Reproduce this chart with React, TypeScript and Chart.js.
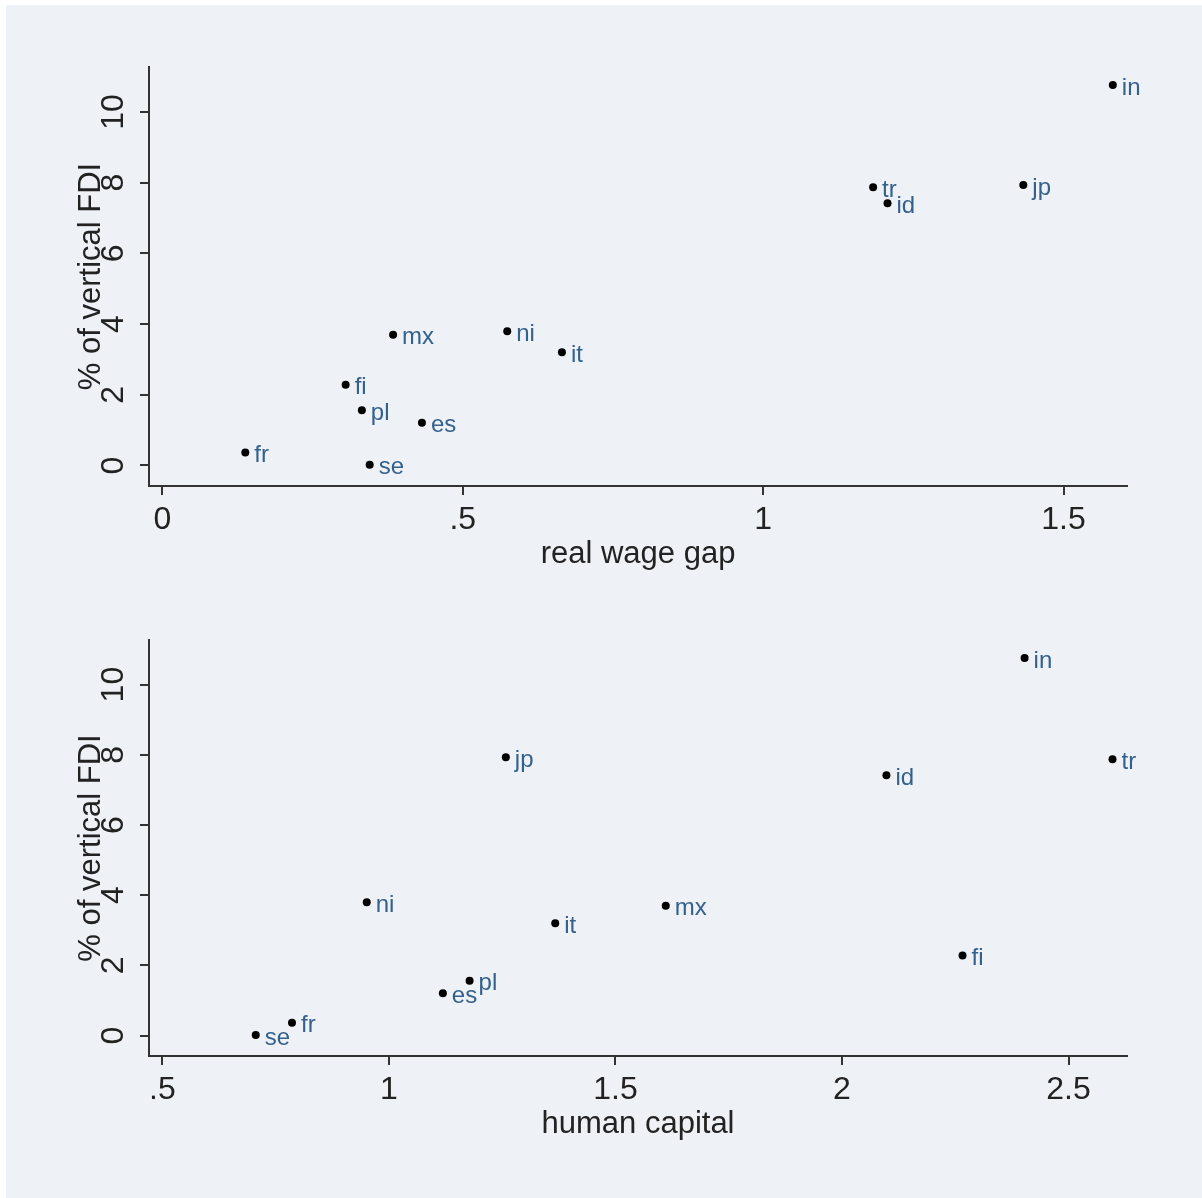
import React, { useEffect, useRef } from 'react';
import { Chart, registerables } from 'chart.js';

Chart.register(...registerables);

// ---- data ----
const countries = ['in', 'jp', 'tr', 'id', 'ni', 'mx', 'it', 'fi', 'pl', 'es', 'fr', 'se'];
const verticalFdiShare = [10.76, 7.93, 7.87, 7.42, 3.8, 3.7, 3.2, 2.28, 1.56, 1.21, 0.37, 0.02];
const realWageGap = [1.582, 1.433, 1.183, 1.207, 0.574, 0.384, 0.665, 0.305, 0.332, 0.432, 0.138, 0.345];
const humanCapital = [2.403, 1.258, 2.597, 2.098, 0.951, 1.611, 1.367, 2.266, 1.178, 1.119, 0.786, 0.706];

const yTicks = [0, 2, 4, 6, 8, 10];
const yTickLabels = ['0', '2', '4', '6', '8', '10'];
const wageTicks = [0, 0.5, 1, 1.5];
const wageTickLabels = ['0', '.5', '1', '1.5'];
const capitalTicks = [0.5, 1, 1.5, 2, 2.5];
const capitalTickLabels = ['.5', '1', '1.5', '2', '2.5'];

const yTitle = '% of vertical FDI';
const wageTitle = 'real wage gap';
const capitalTitle = 'human capital';

const FONT = '"Liberation Sans", Arial, Helvetica, sans-serif';
const TEXT = '#222222';
const AXIS = '#333333';
const LABEL = '#34608c';
const BG = '#eef2f7';

const pointLabels = {
  id: 'pointLabels',
  afterDatasetsDraw(chart: any) {
    const ctx = chart.ctx;
    const meta = chart.getDatasetMeta(0);
    ctx.save();
    ctx.font = `24px ${FONT}`;
    ctx.fillStyle = LABEL;
    ctx.textAlign = 'left';
    ctx.textBaseline = 'middle';
    meta.data.forEach((pt: any, i: number) => {
      ctx.fillText(countries[i], pt.x + 9, pt.y + 3);
    });
    ctx.restore();
  },
};

type PanelProps = {
  xValues: number[];
  xTicks: number[];
  xTickLabels: string[];
  xTitle: string;
  xMin: number;
  xMax: number;
  width: number;
  height: number;
  padTop: number;
  padBottom: number;
  top: number;
};

function ScatterPanel(p: PanelProps) {
  const ref = useRef<HTMLCanvasElement | null>(null);
  useEffect(() => {
    if (!ref.current) return;
    const data = p.xValues.map((x, i) => ({ x, y: verticalFdiShare[i] }));
    const chart = new Chart(ref.current, {
      type: 'scatter',
      data: {
        datasets: [
          {
            data,
            pointRadius: 4,
            pointBackgroundColor: '#000000',
            pointBorderWidth: 0,
            pointBorderColor: '#000000',
          },
        ],
      },
      options: {
        animation: false,
        responsive: false,
        events: [],
        layout: { padding: { left: 50, right: 75, top: p.padTop, bottom: p.padBottom } },
        plugins: { legend: { display: false }, tooltip: { enabled: false } },
        scales: {
          x: {
            type: 'linear',
            min: p.xMin,
            max: p.xMax,
            afterBuildTicks: (s: any) => {
              s.ticks = p.xTicks.map((v) => ({ value: v }));
            },
            afterFit: (s: any) => {
              s.height = 104;
            },
            grid: { display: true, drawOnChartArea: false, drawTicks: true, tickLength: 9, color: AXIS, lineWidth: 2 },
            border: { display: true, color: AXIS, width: 2 },
            ticks: {
              autoSkip: false,
              maxRotation: 0,
              minRotation: 0,
              padding: 6,
              color: TEXT,
              font: { family: FONT, size: 32 },
              callback: (v: any) => {
                const i = p.xTicks.indexOf(Number(v));
                return i >= 0 ? p.xTickLabels[i] : '';
              },
            },
            title: {
              display: true,
              text: p.xTitle,
              color: TEXT,
              font: { family: FONT, size: 31 },
              padding: { top: 0, bottom: 17 },
            },
          },
          y: {
            type: 'linear',
            min: -0.58,
            max: 11.27,
            afterBuildTicks: (s: any) => {
              s.ticks = yTicks.map((v) => ({ value: v }));
            },
            afterFit: (s: any) => {
              s.width = 99;
            },
            grid: { display: true, drawOnChartArea: false, drawTicks: true, tickLength: 9, color: AXIS, lineWidth: 2 },
            border: { display: true, color: AXIS, width: 2 },
            ticks: {
              autoSkip: false,
              minRotation: 90,
              maxRotation: 90,
              crossAlign: 'center',
              padding: 8,
              color: TEXT,
              font: { family: FONT, size: 32 },
              callback: (v: any) => {
                const i = yTicks.indexOf(Number(v));
                return i >= 0 ? yTickLabels[i] : '';
              },
            },
            title: {
              display: true,
              text: yTitle,
              color: TEXT,
              font: { family: FONT, size: 31 },
              padding: { top: 23, bottom: 0 },
            },
          },
        },
      } as any,
      plugins: [pointLabels],
    });
    return () => chart.destroy();
  }, []);
  return (
    <canvas
      ref={ref}
      width={p.width}
      height={p.height}
      style={{ position: 'absolute', left: 0, top: p.top, width: p.width, height: p.height }}
    />
  );
}

export default function App() {
  return (
    <div style={{ position: 'absolute', left: 0, top: 0, width: 1202, height: 1198, background: '#ffffff', overflow: 'hidden' }}>
      <div style={{ position: 'absolute', left: 6, top: 5, right: 0, bottom: 0, background: BG }} />
      <ScatterPanel
        xValues={realWageGap}
        xTicks={wageTicks}
        xTickLabels={wageTickLabels}
        xTitle={wageTitle}
        xMin={-0.0223}
        xMax={1.6056}
        width={1202}
        height={600}
        padTop={67}
        padBottom={10}
        top={0}
      />
      <ScatterPanel
        xValues={humanCapital}
        xTicks={capitalTicks}
        xTickLabels={capitalTickLabels}
        xTitle={capitalTitle}
        xMin={0.4704}
        xMax={2.629}
        width={1202}
        height={598}
        padTop={40}
        padBottom={38}
        top={600}
      />
    </div>
  );
}
